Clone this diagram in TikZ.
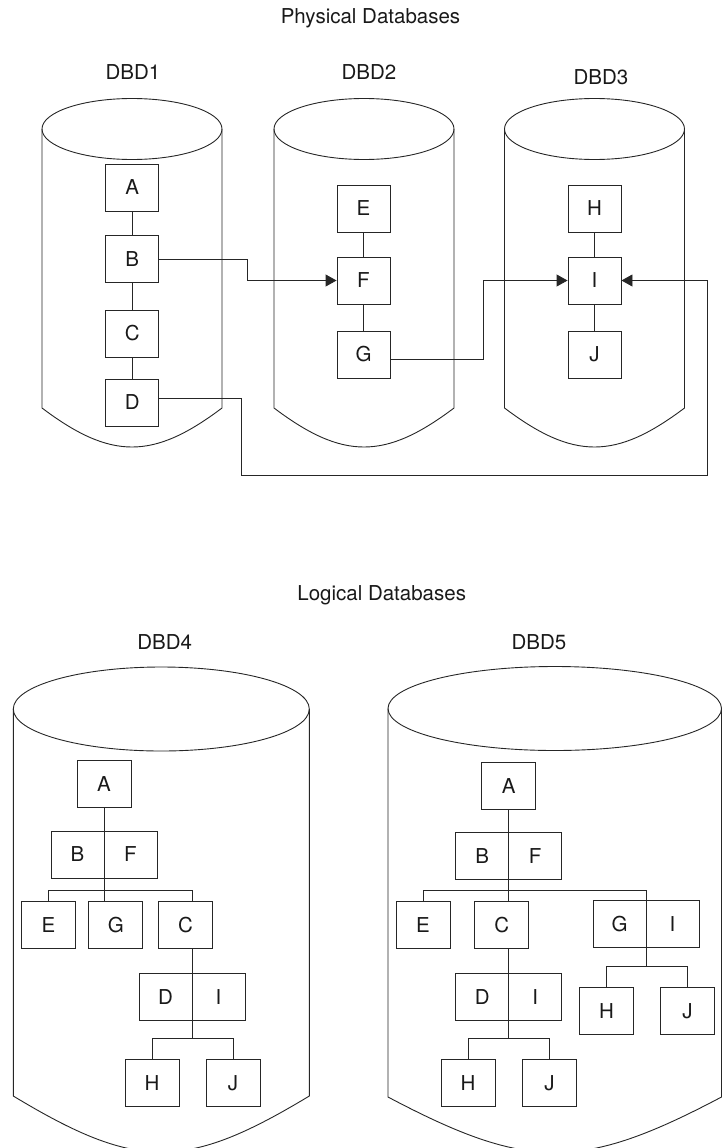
\documentclass[tikz,border=0pt]{standalone}
\usepackage{fontspec}
\setmainfont{TeX Gyre Heros}
\usetikzlibrary{arrows.meta,calc}
\begin{document}
\begin{tikzpicture}[x=1pt,y=-1pt,
  ln/.style={draw=black!85,line width=0.9pt},
  seg/.style={ln,minimum width=53pt,minimum height=47pt,inner sep=0pt,text=black!90,font=\fontsize{20.5}{24}\selectfont},
  lbl/.style={inner sep=0pt,text=black!90,font=\fontsize{20.5}{24}\selectfont},
  arr/.style={ln,-{Triangle[length=11pt,width=12pt]}},
]
\useasboundingbox (0,0) rectangle (721,1148);

% titles and labels
\node[lbl,anchor=base] (t1) at (370.5,23.3) {Physical Databases};
\node[lbl] (l1) at (133,72.5) {DBD1};
\node[lbl] (l2) at (369,72.5) {DBD2};
\node[lbl] (l3) at (601,77) {DBD3};
\node[lbl,anchor=base] (t2) at (381.7,600) {Logical Databases};
\node[lbl] (l4) at (164.7,642) {DBD4};
\node[lbl] (l5) at (539,642) {DBD5};

% physical cylinders
\draw[ln] (132,129) ellipse [x radius=90pt, y radius=30.5pt];
\draw[ln] (42,129) -- (42,408) .. controls (111,460) and (153,460) .. (222,408) -- (222,129);
\draw[ln] (364,129) ellipse [x radius=90pt, y radius=30.5pt];
\draw[ln] (274,129) -- (274,408) .. controls (343,460) and (385,460) .. (454,408) -- (454,129);
\draw[ln] (594.5,129) ellipse [x radius=90pt, y radius=30.5pt];
\draw[ln] (504.5,129) -- (504.5,408) .. controls (573.5,460) and (615.5,460) .. (684.5,408) -- (684.5,129);

% logical cylinders
\draw[ln] (161.3,709) ellipse [x radius=148pt, y radius=42pt];
\draw[ln] (13.3,709) -- (13.3,1096) .. controls (137,1170.7) and (185.6,1170.7) .. (309.3,1096) -- (309.3,709);
\draw[ln] (554.75,708.5) ellipse [x radius=166.75pt, y radius=42pt];
\draw[ln] (388,708.5) -- (388,1097) .. controls (528,1171) and (581.5,1171) .. (721.5,1097) -- (721.5,708.5);

% DBD1
\node[seg] (A1) at (132.3,187.5) {A};
\node[seg] (B1) at (132.3,259) {B};
\node[seg] (C1) at (132.3,333.5) {C};
\node[seg] (D1) at (132.3,402.5) {D};
\draw[ln] (A1) -- (B1);
\draw[ln] (B1) -- (C1);
\draw[ln] (C1) -- (D1);
% DBD2
\node[seg] (E2) at (363.5,208.5) {E};
\node[seg] (F2) at (363.5,280.5) {F};
\node[seg] (G2) at (363.5,354.5) {G};
\draw[ln] (E2) -- (F2);
\draw[ln] (F2) -- (G2);
% DBD3
\node[seg] (H3) at (594.5,208.5) {H};
\node[seg] (I3) at (594.5,280.5) {I};
\node[seg] (J3) at (594.5,354.5) {J};
\draw[ln] (H3) -- (I3);
\draw[ln] (I3) -- (J3);

% logical pointers
\draw[arr] (B1.east) -- ++(88,0) |- (F2.west);
\draw[arr] ($(G2.east)+(0,4.5)$) -- ++(93,0) |- (I3.west);
\draw[arr] ($(D1.east)+(0,-4.5)$) -- ++(82,0) -- ++(0,77) -| ($(I3.east)+(86,0)$) -- (I3.east);

% DBD4 tree
\node[seg,minimum width=54pt] (A4) at (104,783.8) {A};
\node[seg] (B4) at (77.5,854.5) {B};
\node[seg] (F4) at (130.5,854.5) {F};
\node[seg,minimum width=54pt] (E4) at (48.5,925.3) {E};
\node[seg,minimum width=54pt] (G4) at (115.8,925.3) {G};
\node[seg,minimum width=54pt] (C4) at (185.5,925.3) {C};
\node[seg] (D4) at (165.5,996.7) {D};
\node[seg] (I4) at (218.5,996.7) {I};
\node[seg,minimum width=54pt] (H4) at (152,1083.2) {H};
\node[seg,minimum width=54pt] (J4) at (233,1083.2) {J};
\coordinate (s4) at (104,890.3);
\coordinate (c4) at (192,890.3);
\coordinate (d4) at (192,1038.7);
\draw[ln] (A4.south) -- (s4);
\draw[ln] (E4.north) |- (c4) -- (c4 |- C4.north);
\draw[ln] (s4) -- (s4 |- G4.north);
\draw[ln] (c4 |- C4.south) -- (d4);
\draw[ln] (H4.north) |- (d4) -| (J4.north);

% DBD5 tree
\node[seg,minimum width=54pt] (A5) at (508.7,786) {A};
\node[seg] (B5) at (482.2,856.3) {B};
\node[seg] (F5) at (535.2,856.3) {F};
\node[seg,minimum width=54pt] (E5) at (423,925.3) {E};
\node[seg,minimum width=54pt] (C5) at (501.7,925.3) {C};
\node[seg] (G5) at (619.5,924.2) {G};
\node[seg] (I5) at (672.5,924.2) {I};
\node[seg] (D5) at (482.2,996.7) {D};
\node[seg] (I5b) at (535.2,996.7) {I};
\node[seg,minimum width=54pt] (H5) at (468,1083.2) {H};
\node[seg,minimum width=54pt] (J5) at (549.5,1083.2) {J};
\node[seg,minimum width=54pt] (H5b) at (606.5,1010.7) {H};
\node[seg,minimum width=54pt] (J5b) at (687.5,1010.7) {J};
\coordinate (s5) at (508.7,890.3);
\coordinate (g5) at (646,890.3);
\coordinate (h5) at (646,966.7);
\coordinate (d5) at (508.7,1038.7);
\draw[ln] (A5.south) -- (s5);
\draw[ln] (E5.north) |- (g5) -- (h5);
\draw[ln] (s5) -- (s5 |- C5.north);
\draw[ln] (H5b.north) |- (h5) -| (J5b.north);
\draw[ln] (s5 |- C5.south) -- (d5);
\draw[ln] (H5.north) |- (d5) -| (J5.north);
\end{tikzpicture}
\end{document}
